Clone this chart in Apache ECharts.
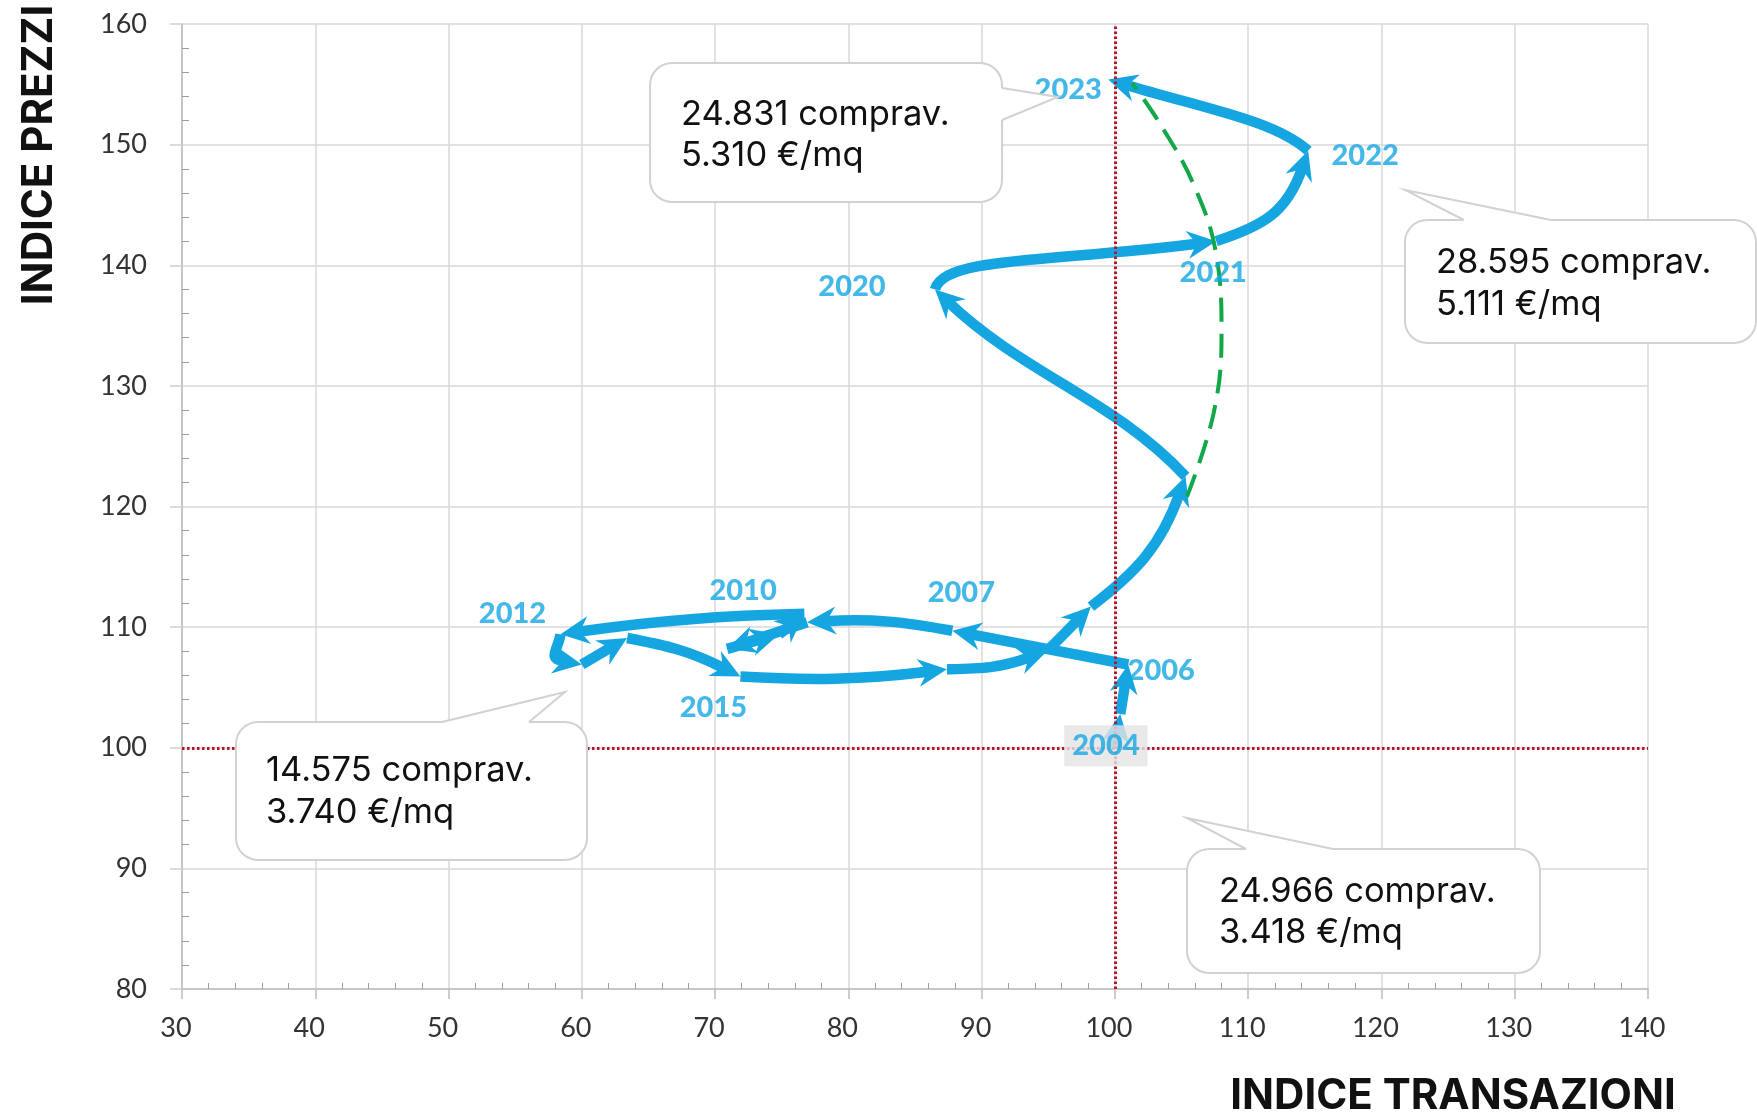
<!DOCTYPE html>
<html>
<head>
<meta charset="utf-8">
<script src="https://cdn.jsdelivr.net/npm/echarts@6/dist/echarts.min.js"></script>
<style>
  html, body { margin: 0; padding: 0; background: #ffffff; }
  #chart { width: 1757px; height: 1114px; }
</style>
</head>
<body>
<div id="chart"></div>
<script>
// Yearly path of the two indices (2004 = 100)
const years = [2004, 2005, 2006, 2007, 2008, 2009, 2010, 2011, 2012, 2013,
               2014, 2015, 2016, 2017, 2018, 2019, 2020, 2021, 2022, 2023];
const transactionIndex = [100.0, 100.4, 101.0, 87.8, 76.9, 70.9, 74.8, 76.7, 58.4, 60.0,
                          63.4, 71.9, 87.4, 94.9, 98.2, 105.3, 86.5, 107.6, 114.5, 99.5];
const priceIndex = [100.0, 102.8, 106.9, 109.7, 110.4, 108.2, 109.4, 111.1, 109.4, 106.9,
                    109.1, 105.9, 106.5, 108.0, 111.7, 122.5, 138.0, 142.0, 149.5, 155.4];

// Years that carry a label next to their point
const labelledYears = [2004, 2006, 2007, 2010, 2012, 2015, 2020, 2021, 2022, 2023];

// Dashed trend 2019 -> 2023
const trendX = [105.4, 107.4, 108.0, 107.6, 105.9, 103.4, 101.3];
const trendY = [120.8, 127.7, 134.3, 140.9, 146.7, 151.7, 155.1];

// Reference level of both indices
const baseLevel = 100;

// Callout texts
const calloutYears = [2023, 2022, 2012, 2004];
const calloutDeeds = ['24.831 comprav.', '28.595 comprav.', '14.575 comprav.', '24.966 comprav.'];
const calloutPrices = ['5.310 €/mq', '5.111 €/mq', '3.740 €/mq', '3.418 €/mq'];

// ---- styling / layout ----
const BLUE = '#15a6e2';
const GREEN = '#12a84a';
const RED = '#b8142a';

function quad(c) { return [1 / 3, 2 * c / 3, 2 / 3, 2 * c / 3]; }
// curve shape of each segment, keyed by the starting year: [a1, k1, a2, k2]
const segmentBend = {
  2007: quad(-0.06), 2011: quad(-0.03), 2012: quad(-0.5), 2014: quad(0.07),
  2015: quad(-0.045), 2016: quad(-0.08), 2018: quad(-0.15),
  2019: [0.33, -0.06, 0.67, 0.04],
  2020: [0.05, 0.11, 0.5, 0.02], 2021: quad(-0.25), 2022: [0.2, -0.08, 0.6, -0.02]
};

// pixel offset of each year label from its point
const yearLabelOffset = {
  2004: [-9, -2], 2006: [33, 6], 2007: [9, -38], 2010: [-36, -44], 2012: [-48, -21],
  2015: [-27, 31], 2020: [-83, -3], 2021: [-3, 32], 2022: [57, 5], 2023: [-40, 10]
};

// callout boxes: box rect, pointer base (two points) and tip, text origin
const calloutLayout = [
  { box: [650, 63, 352, 139], base: [[1002, 88], [1002, 120]], tip: [1058, 97], text: [681, 114.5, 156] },
  { box: [1405, 220, 351, 123], base: [[1464, 220], [1551, 220]], tip: [1405, 190], text: [1436, 263, 304.5] },
  { box: [236, 722, 351, 138], base: [[442, 722], [529, 722]], tip: [565, 692], text: [266, 770.5, 812.5] },
  { box: [1187, 849, 353, 124], base: [[1246, 849], [1333, 849]], tip: [1187, 818], text: [1219, 891.5, 933] }
];

const segments = [];
for (let i = 0; i < years.length - 1; i++) {
  segments.push([transactionIndex[i], priceIndex[i], transactionIndex[i + 1], priceIndex[i + 1], years[i]]);
}

function renderSegment(params, api) {
  const s = api.coord([api.value(0), api.value(1)]);
  const e = api.coord([api.value(2), api.value(3)]);
  const b = segmentBend[api.value(4)] || [1 / 3, 0, 2 / 3, 0];
  const dx = e[0] - s[0], dy = e[1] - s[1];
  const nx = dy, ny = -dx;
  const c1 = [s[0] + b[0] * dx + b[1] * nx, s[1] + b[0] * dy + b[1] * ny];
  const c2 = [s[0] + b[2] * dx + b[3] * nx, s[1] + b[2] * dy + b[3] * ny];
  let tx = e[0] - c2[0], ty = e[1] - c2[1];
  const tl = Math.hypot(tx, ty) || 1;
  tx /= tl; ty /= tl;
  const L = 29, W = 14, back = 18;
  const children = [];
  const chord = Math.hypot(dx, dy);
  if (chord > L * 0.8) {
    children.push({
      type: 'bezierCurve',
      shape: {
        x1: s[0], y1: s[1],
        cpx1: c1[0], cpy1: c1[1],
        cpx2: c2[0] - tx * back, cpy2: c2[1] - ty * back,
        x2: e[0] - tx * back, y2: e[1] - ty * back
      },
      style: { fill: 'none', stroke: BLUE, lineWidth: 10.5 }
    });
  }
  const px = -ty, py = tx;
  const bc = [e[0] - tx * L, e[1] - ty * L];
  const notch = [e[0] - tx * L * 0.68, e[1] - ty * L * 0.68];
  children.push({
    type: 'polygon',
    shape: { points: [e, [bc[0] + px * W, bc[1] + py * W], notch, [bc[0] - px * W, bc[1] - py * W]] },
    style: { fill: BLUE }
  });
  return { type: 'group', children: children };
}

// graphic elements for the callouts and axis titles
const graphics = [];
calloutLayout.forEach(function (c, i) {
  const [x, y, w, h] = c.box;
  graphics.push({ type: 'rect', z: 100, shape: { x: x, y: y, width: w, height: h, r: 22 },
    style: { fill: '#ffffff', stroke: '#d2d2d2', lineWidth: 2 } });
  // inward direction of the box side that holds the pointer base
  const vertical = c.base[0][0] === c.base[1][0];
  const inX = vertical ? (c.tip[0] > c.base[0][0] ? -3 : 3) : 0;
  const inY = vertical ? 0 : (c.tip[1] < c.base[0][1] ? 3 : -3);
  graphics.push({ type: 'polygon', z: 101,
    shape: { points: [c.base[0], c.tip, c.base[1], [c.base[1][0] + inX, c.base[1][1] + inY], [c.base[0][0] + inX, c.base[0][1] + inY]] },
    style: { fill: '#ffffff', stroke: null } });
  graphics.push({ type: 'polyline', z: 102,
    shape: { points: [c.base[0], c.tip, c.base[1]] },
    style: { fill: null, stroke: '#d2d2d2', lineWidth: 2 } });
  graphics.push({ type: 'text', z: 103, x: c.text[0], y: c.text[1],
    style: { text: calloutDeeds[i], font: '34.5px Inter', fill: '#111111', verticalAlign: 'middle', align: 'left' } });
  graphics.push({ type: 'text', z: 103, x: c.text[0], y: c.text[2],
    style: { text: calloutPrices[i], font: '34.5px Inter', fill: '#111111', verticalAlign: 'middle', align: 'left' } });
});
graphics.push({ type: 'text', z: 100, x: 39, y: 155, rotation: Math.PI / 2,
  style: { text: 'INDICE PREZZI', font: 'bold 42px Inter', fill: '#111111', align: 'center', verticalAlign: 'middle' } });
graphics.push({ type: 'text', z: 100, x: 1453, y: 1096,
  style: { text: 'INDICE TRANSAZIONI', font: 'bold 42px Inter', fill: '#111111', align: 'center', verticalAlign: 'middle' } });

const labelData = labelledYears.map(function (yr) {
  const i = years.indexOf(yr);
  const item = {
    name: String(yr),
    value: [transactionIndex[i], priceIndex[i]],
    label: { offset: yearLabelOffset[yr] }
  };
  if (yr === 2004) {
    item.label.backgroundColor = '#e3e3e3';
    item.label.padding = [7, 8, 5, 8];
  }
  return item;
});

const axisLabelStyle = { fontFamily: 'Lato', fontSize: 27, color: '#333333' };

const chart = echarts.init(document.getElementById('chart'), null, { renderer: 'canvas' });
chart.setOption({
  animation: false,
  backgroundColor: '#ffffff',
  grid: { left: 182, top: 24, width: 1466, height: 965, containLabel: false },
  xAxis: {
    type: 'value', min: 30, max: 140, interval: 10,
    axisLine: { show: true, lineStyle: { color: '#bdbdbd', width: 1.5 } },
    axisTick: { show: true, length: 10, lineStyle: { color: '#bdbdbd', width: 1.5 } },
    minorTick: { show: true, splitNumber: 5, length: -6, lineStyle: { color: '#a0a0a0', width: 1 } },
    splitLine: { show: true, lineStyle: { color: '#d9d9d9', width: 1.5 } },
    axisLabel: Object.assign({ margin: 26, padding: [0, 12, 0, 0] }, axisLabelStyle)
  },
  yAxis: {
    type: 'value', min: 80, max: 160, interval: 10,
    axisLine: { show: true, lineStyle: { color: '#bdbdbd', width: 1.5 } },
    axisTick: { show: true, length: 12, lineStyle: { color: '#d0d0d0', width: 1.5 } },
    minorTick: { show: true, splitNumber: 5, length: -7, lineStyle: { color: '#a0a0a0', width: 1 } },
    splitLine: { show: true, lineStyle: { color: '#d9d9d9', width: 1.5 } },
    axisLabel: Object.assign({ margin: 35 }, axisLabelStyle)
  },
  graphic: graphics,
  series: [
    {
      // reference lines at index 100
      type: 'line', data: [], z: 1, silent: true,
      markLine: {
        silent: true, symbol: 'none', animation: false,
        label: { show: false },
        lineStyle: { color: RED, type: [2.5, 2.5], width: 3 },
        data: [{ xAxis: baseLevel }, { yAxis: baseLevel }]
      }
    },
    {
      type: 'custom', z: 3, silent: true,
      renderItem: renderSegment,
      encode: { x: [0, 2], y: [1, 3] },
      data: segments
    },
    {
      type: 'line', z: 4, silent: true, smooth: 0.4, symbol: 'none',
      data: trendX.map(function (x, i) { return [x, trendY[i]]; }),
      lineStyle: { color: GREEN, width: 4, type: [24, 12] }
    },
    {
      type: 'scatter', z: 5, silent: true, symbolSize: 0,
      data: labelData,
      label: {
        show: true, position: 'inside', formatter: '{b}',
        fontFamily: 'Lato', fontWeight: 900, fontSize: 29, color: BLUE
      }
    }
  ]
});
</script>
</body>
</html>
